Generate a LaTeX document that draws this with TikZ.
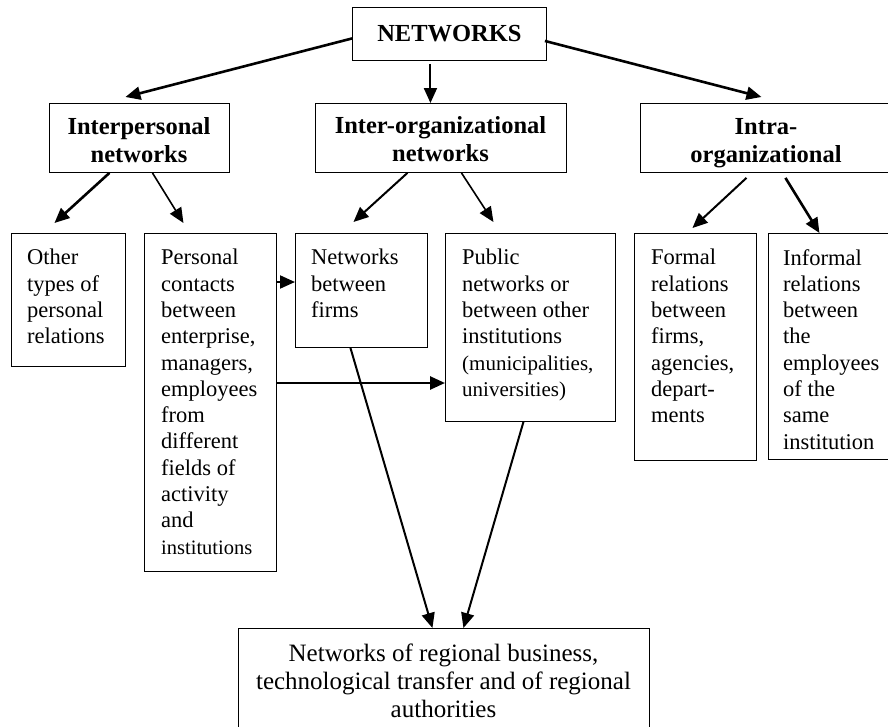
\documentclass[tikz,border=0pt]{standalone}
\usepackage{fontspec}
\setmainfont{Liberation Serif}
\usetikzlibrary{arrows.meta,calc}
\tikzset{
  box/.style={draw, line width=0.9pt, inner sep=0pt, anchor=north west},
  txt/.style={anchor=north west, inner sep=0pt, align=left, font=\fontsize{22.5}{26.3}\selectfont},
  hd/.style={anchor=north, inner sep=0pt, align=center, font=\fontsize{24.5}{28}\selectfont\bfseries},
  tip/.style={-{Triangle[length=15pt 0,width=13pt 0]}},
  arrA/.style={tip, line width=2.6pt},
  arrB/.style={tip, line width=2pt},
  arrC/.style={tip, line width=1.6pt},
}
\begin{document}
\begin{tikzpicture}[x=1pt,y=-1pt]
\useasboundingbox (0,0) rectangle (888,726);
\clip (0,0) rectangle (888,726);
\fill[white] (0,0) rectangle (888,726);

% boxes
\node[box, minimum width=194pt, minimum height=53pt, font=\fontsize{24.5}{28}\selectfont\bfseries] (net) at (352,7) {NETWORKS};
\node[box, minimum width=180pt, minimum height=69pt] (inter) at (49,103) {};
\node[box, minimum width=251pt, minimum height=69pt] (interorg) at (315,103) {};
\node[box, minimum width=252pt, minimum height=69pt] (intra) at (640,103) {};
\node[box, minimum width=114pt, minimum height=133pt] (other) at (11,233) {};
\node[box, minimum width=132pt, minimum height=338pt] (personal) at (144,233) {};
\node[box, minimum width=132pt, minimum height=114pt] (firms) at (295,233) {};
\node[box, minimum width=170pt, minimum height=188pt] (public) at (445,233) {};
\node[box, minimum width=122pt, minimum height=227pt] (formal) at (634,233) {};
\node[box, minimum width=130pt, minimum height=226pt] (informal) at (768,233) {};
\node[box, minimum width=411pt, minimum height=130pt] (bottom) at (238,628) {};

% heading texts
\node[hd] (interT) at (139,117.4) {Interpersonal\\networks};
\node[hd] (interorgT) at (440.5,116.4) {Inter-organizational\\networks};
\node[hd] (intraT) at (766,118.4) {Intra-\\organizational};

% box texts
\node[txt] (otherT) at (27,249) {Other\\types of\\personal\\relations};
\node[txt] (personalT) at (161,249) {Personal\\contacts\\between\\enterprise,\\managers,\\employees\\from\\different\\fields of\\activity\\and\\{\fontsize{20.5}{26.3}\selectfont institutions}};
\node[txt] (firmsT) at (311,249) {Networks\\between\\firms};
\node[txt] (publicT) at (462,249) {Public\\networks or\\between other\\institutions\\{\fontsize{21}{26.3}\selectfont (municipalities,}\\{\fontsize{21}{26.3}\selectfont universities)}};
\node[txt] (formalT) at (651,249) {Formal\\relations\\between\\firms,\\agencies,\\depart-\\ments};
\node[txt] (informalT) at (783,249) {Informal\\relations\\between\\the\\employees\\of the\\same\\institution};
\node[anchor=north, inner sep=0pt, align=center, font=\fontsize{25}{28}\selectfont] (bottomT) at (443.5,644) {Networks of regional business,\\technological transfer and of regional\\authorities};

% connectors
\draw[arrA] ($(net.west)+(0,4.5)$) -- ($(inter.north)+(-14,-6)$);
\draw[arrB] ($(net.south)+(-19,3)$) -- ($(interorg.north)+(-10.5,0)$);
\draw[arrA] ($(net.east)+(-2,7)$) -- ($(intra.north)+(-5,-6)$);

\draw[arrA] ($(inter.south)+(-30,0)$) -- ($(other.north)+(-14,-10)$);
\draw[arrC] ($(inter.south)+(13,0)$) -- ($(personal.north)+(-27,-10)$);
\draw[arrB] ($(interorg.south)+(-33.5,0)$) -- ($(firms.north)+(-8,-11)$);
\draw[arrC] ($(interorg.south)+(20.5,0)$) -- ($(public.north)+(-37,-11)$);
\draw[arrB] ($(intra.south)+(-20,5)$) -- ($(formal.north)+(-3,-5)$);
\draw[arrA] ($(intra.south)+(19,5)$) -- ($(informal.north)+(-14,0)$);

\draw[arrB] ($(personal.north east)+(0,49)$) -- ($(firms.north west)+(0,49)$);
\draw[arrA] ($(personal.north east)+(0,150)$) -- ($(public.north west)+(0,150)$);

\draw[arrB] ($(firms.south)+(-11,0)$) -- ($(bottom.north)+(-11.5,0)$);
\draw[arrB] ($(public.south)+(-7,0)$) -- ($(bottom.north)+(19.5,0)$);
\end{tikzpicture}
\end{document}
